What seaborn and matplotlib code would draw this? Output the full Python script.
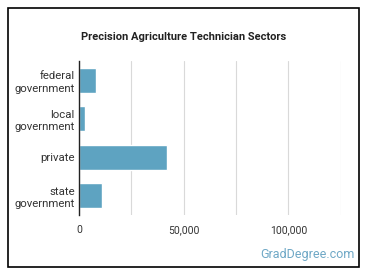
import matplotlib
matplotlib.use('Agg')
import matplotlib.pyplot as plt
import seaborn as sns
import pandas as pd
from matplotlib.patches import Rectangle
from matplotlib.ticker import FuncFormatter, MultipleLocator

# Data
sectors = ['federal\ngovernment', 'local\ngovernment', 'private', 'state\ngovernment']
employees = [8300, 3000, 42200, 11150]

df = pd.DataFrame({'Sector': sectors, 'Employees': employees})

sns.set_style('white')
plt.rcParams['font.family'] = ['Roboto', 'DejaVu Sans']

fig = plt.figure(figsize=(3.7, 2.78), dpi=100)
ax = fig.add_axes([0.2135, 0.2266, 0.707, 0.554])

sns.barplot(data=df, x='Employees', y='Sector', color='#5ea3c1', width=0.65,
            saturation=1, ax=ax)

ax.set_xlim(0, 125000)
ax.xaxis.set_major_locator(MultipleLocator(50000))
ax.xaxis.set_minor_locator(MultipleLocator(25000))
ax.xaxis.set_major_formatter(FuncFormatter(lambda v, p: f'{int(v):,}' if v <= 100000 else ''))
ax.grid(axis='x', which='both', color='#d9d9d9', linewidth=0.8)
ax.set_axisbelow(True)
ax.set_xlabel('')
ax.set_ylabel('')
ax.tick_params(axis='x', length=0, labelsize=7.5, labelcolor='#333333', pad=7)
ax.tick_params(axis='y', length=0, labelsize=8.2, labelcolor='#333333', pad=3)
for lab in ax.get_yticklabels():
    lab.set_horizontalalignment('right')
    lab.set_linespacing(1.3)
for s in ['top', 'right', 'bottom']:
    ax.spines[s].set_visible(False)
ax.spines['left'].set_color('#222222')
ax.spines['left'].set_linewidth(1)

fig.text(0.495, 0.867, 'Precision Agriculture Technician Sectors', ha='center', va='center',
         fontsize=8, fontweight='bold', color='#222222')
fig.text(0.958, 0.085, 'GradDegree.com', ha='right', va='center', fontsize=9,
         color='#6fa8c6')

# outer frame
fig.patches.append(Rectangle((8 / 370, 11 / 278), 351 / 370, 259 / 278, transform=fig.transFigure,
                             fill=False, edgecolor='black', linewidth=1.2))

fig.savefig('out.png', dpi=100)
